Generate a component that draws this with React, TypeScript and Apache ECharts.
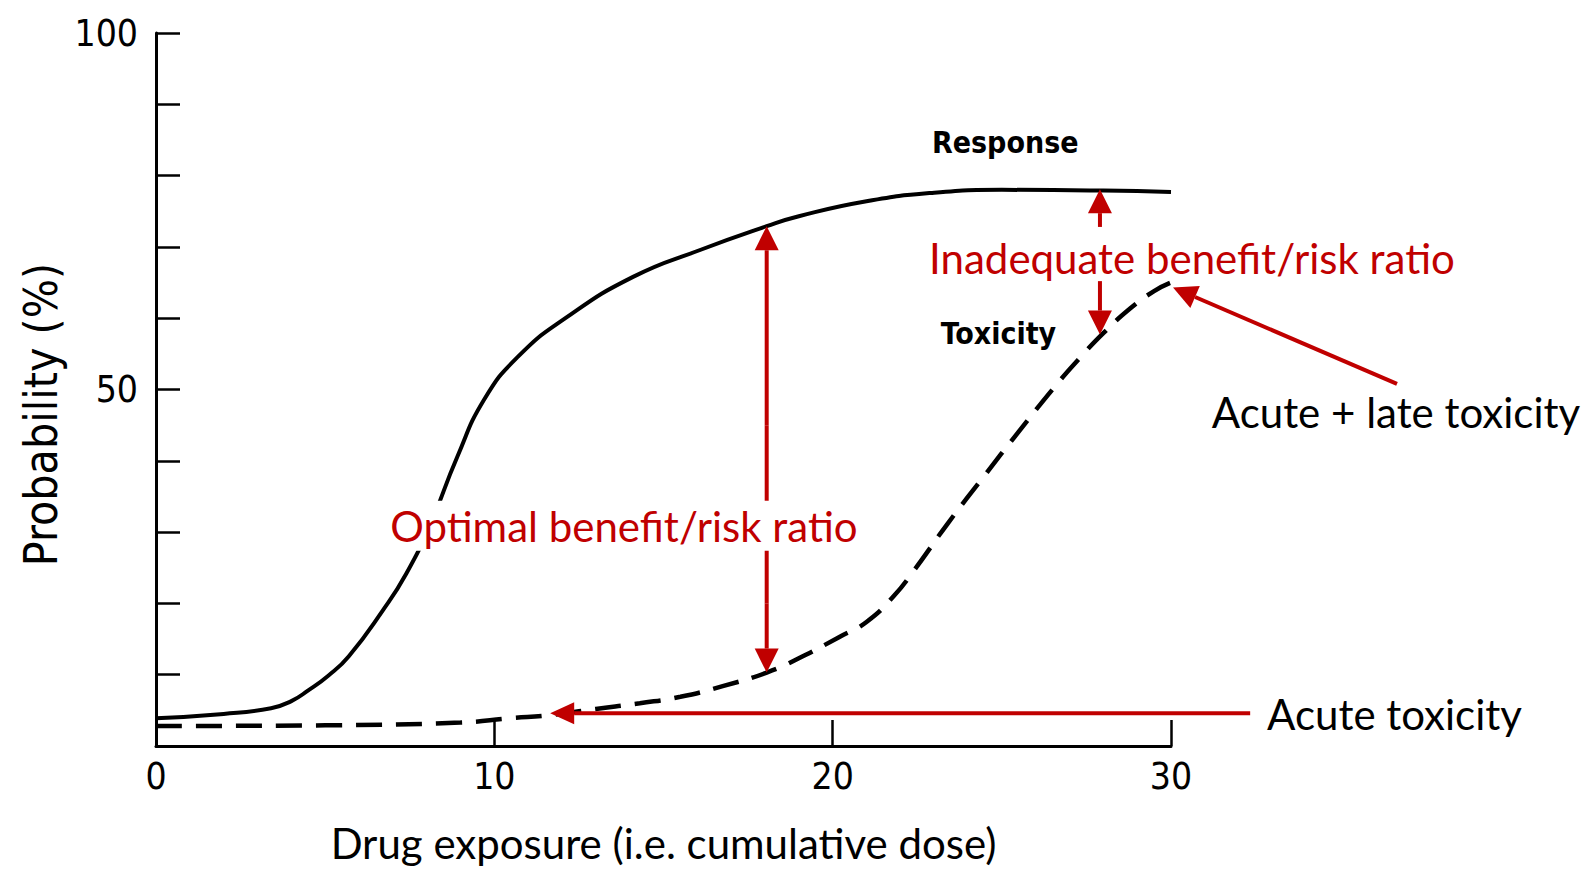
import React, { useEffect, useRef } from "react";
import * as echarts from "echarts";

// ---- data ----
const responseX = [0, 2, 3.4, 4.0, 4.5, 5.1, 5.7, 6.7, 7.4, 8.1, 8.9, 9.7, 10.7, 12.1, 14.1, 16.1, 18.05, 19.0, 21.0, 23.0, 25.0, 28.0, 30.0];
const responseY = [3.9, 4.5, 5.3, 6.3, 7.8, 9.9, 12.6, 19.0, 24.2, 31.0, 40.5, 48.6, 54.6, 60.0, 65.8, 69.6, 72.9, 74.3, 76.4, 77.6, 78.0, 77.9, 77.7];
const toxicityX = [0, 5, 9, 10.5, 11.6, 13, 14.3, 15.5, 16.75, 18.05, 19, 20.2, 21, 21.8, 22.4, 23.4, 24.5, 25.5, 26.6, 27.3, 28.0, 28.8, 29.5, 30];
const toxicityY = [2.8, 2.9, 3.3, 3.9, 4.3, 5.2, 6.0, 6.9, 8.4, 10.3, 12.3, 15.3, 17.4, 21.0, 24.6, 31.2, 38.0, 44.1, 50.6, 54.4, 57.9, 61.4, 63.8, 65.0];
const yLabelledTicks = [50, 100];

const xAxisTitle = "Drug exposure (i.e. cumulative dose)";
const yAxisTitle = "Probability (%)";

// annotation anchors in data coordinates
const optimalX = 18.05;
const inadequateX = 27.9;

const RED = "#C00000";
const OLD_FONT = "'Liberation Sans Narrow', 'DejaVu Sans Condensed', 'Liberation Sans', sans-serif";
const NEW_FONT = "Lato, 'Open Sans', sans-serif";

export default function App() {
  const ref = useRef<HTMLDivElement>(null);
  useEffect(() => {
    const chart = echarts.init(ref.current!, null, { renderer: "svg" });
    chart.setOption({
      animation: false,
      backgroundColor: "#fff",
      grid: { left: 156, top: 33, right: 410, bottom: 117 },
      xAxis: {
        type: "value",
        min: 0,
        max: 30,
        interval: 10,
        name: xAxisTitle,
        nameLocation: "middle",
        nameGap: 76,
        nameTextStyle: { fontFamily: NEW_FONT, fontSize: 42, color: "#000" },
        axisLine: { lineStyle: { color: "#000", width: 3 } },
        axisTick: { inside: true, length: 26, lineStyle: { color: "#000", width: 2.5 } },
        axisLabel: { fontFamily: OLD_FONT, fontSize: 37, color: "#000", margin: 12 },
        splitLine: { show: false },
      },
      yAxis: {
        type: "value",
        min: 0,
        max: 100,
        interval: 10,
        name: yAxisTitle,
        nameLocation: "middle",
        nameRotate: 90,
        nameGap: 92,
        nameTextStyle: { fontFamily: OLD_FONT, fontSize: 46, color: "#000", padding: [0, 50, 0, 0] },
        axisLine: { lineStyle: { color: "#000", width: 3 } },
        axisTick: { inside: true, length: 24, lineStyle: { color: "#000", width: 2.5 } },
        axisLabel: {
          fontFamily: OLD_FONT,
          fontSize: 37,
          color: "#000",
          margin: 18,
          formatter: (v: number) => (yLabelledTicks.includes(v) ? String(v) : ""),
        },
        splitLine: { show: false },
      },
      series: [
        {
          name: "Response",
          type: "line",
          data: responseX.map((x, i) => [x, responseY[i]]),
          smooth: 0.5,
          showSymbol: false,
          lineStyle: { color: "#000", width: 4 },
        },
        {
          name: "Toxicity",
          type: "line",
          data: toxicityX.map((x, i) => [x, toxicityY[i]]),
          smooth: 0.5,
          showSymbol: false,
          lineStyle: { color: "#000", width: 4.5, type: [26, 14] },
        },
      ],
    });

    const P = (x: number, y: number) => chart.convertToPixel({ gridIndex: 0 }, [x, y]) as number[];
    const els: any[] = [];
    const seg = (a: number[], b: number[]) =>
      els.push({ type: "line", z: 90, shape: { x1: a[0], y1: a[1], x2: b[0], y2: b[1] }, style: { stroke: RED, lineWidth: 4 } });
    const arrow = (from: number[], to: number[], headLen = 24, halfW = 12) => {
      const a = P(from[0], from[1]);
      const b = P(to[0], to[1]);
      const dx = b[0] - a[0], dy = b[1] - a[1];
      const L = Math.hypot(dx, dy);
      const ux = dx / L, uy = dy / L;
      const bx = b[0] - ux * headLen, by = b[1] - uy * headLen;
      seg(a, [bx, by]);
      els.push({
        type: "polygon",
        z: 91,
        shape: { points: [[b[0], b[1]], [bx - uy * halfW, by + ux * halfW], [bx + uy * halfW, by - ux * halfW]] },
        style: { fill: RED },
      });
    };
    const text = (x: number, y: number, t: string, opts: any = {}) => {
      const p = P(x, y);
      els.push({
        type: "text",
        z: 100,
        x: p[0],
        y: p[1],
        style: {
          text: t,
          fill: opts.fill || "#000",
          font: opts.font || `42px ${NEW_FONT}`,
          textAlign: opts.align || "center",
          textVerticalAlign: "middle",
          backgroundColor: opts.bg,
          padding: opts.bg ? [4, 2] : undefined,
        },
      });
    };

    // Optimal benefit/risk ratio (double arrow between curves)
    arrow([optimalX, 45], [optimalX, 72.9]);
    arrow([optimalX, 20], [optimalX, 10.3]);
    seg(P(optimalX, 20), P(optimalX, 45));
    text(13.83, 30.9, "Optimal benefit/risk ratio", { fill: RED, bg: "#fff" });

    // Inadequate benefit/risk ratio
    arrow([inadequateX, 72.8], [inadequateX, 78.1]);
    arrow([inadequateX, 65.2], [inadequateX, 57.7]);
    text(30.62, 68.5, "Inadequate benefit/risk ratio", { fill: RED });

    // Acute + late toxicity
    arrow([36.68, 50.8], [30.06, 64.3]);
    text(36.65, 46.8, "Acute + late toxicity");

    // Acute toxicity
    arrow([32.34, 4.6], [11.65, 4.6], 24, 11);
    text(32.84, 4.46, "Acute toxicity", { align: "left" });

    // curve labels
    text(25.1, 84.7, "Response", { font: `bold 30px ${OLD_FONT}` });
    text(24.9, 57.8, "Toxicity", { font: `bold 30px ${OLD_FONT}` });

    chart.setOption({ graphic: { elements: els } });
    return () => chart.dispose();
  }, []);
  return (
    <div
      ref={ref}
      style={{ position: "fixed", left: 0, top: 0, width: 1581, height: 869, background: "#fff" }}
    />
  );
}
